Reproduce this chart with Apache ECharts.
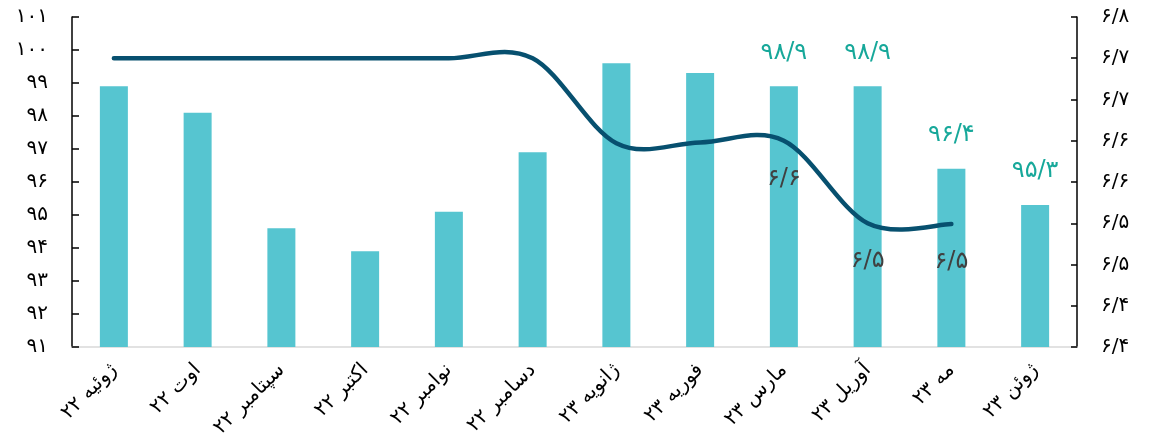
<!DOCTYPE html>
<html>
<head>
<meta charset="utf-8">
<script src="https://cdn.jsdelivr.net/npm/echarts@6/dist/echarts.min.js"></script>
<style>
html,body{margin:0;padding:0;background:#fff;}
#chart{width:1157px;height:445px;}
</style>
</head>
<body>
<div id="chart"></div>
<script>
const categories = ['ژوئیه ۲۲','اوت ۲۲','سپتامبر ۲۲','اکتبر ۲۲','نوامبر ۲۲','دسامبر ۲۲','ژانویه ۲۳','فوریه ۲۳','مارس ۲۳','آوریل ۲۳','مه ۲۳','ژوئن ۲۳'];
const barValues = [98.9, 98.1, 94.6, 93.9, 95.1, 96.9, 99.6, 99.3, 98.9, 98.9, 96.4, 95.3];
const lineValues = [6.75, 6.75, 6.75, 6.75, 6.75, 6.75, 6.647, 6.648, 6.65, 6.55, 6.549, null];
const barLabelIdx = [8, 9, 10, 11];
const lineLabelIdx = [8, 9, 10];

const fa = s => String(s).replace(/[0-9]/g, d => '۰۱۲۳۴۵۶۷۸۹'[d]).replace('.', '/');
const trunc1 = v => (Math.floor(v * 10 + 1e-6) / 10).toFixed(1);
const FONT = 'DejaVu Sans';
const LINE_COLOR = '#07506f';

function renderSmoothLine(params, api) {
  if (params.dataIndex !== 0) return null;
  const pts = [];
  lineValues.forEach((v, i) => { if (v != null) pts.push({i, v, p: api.coord([i, v])}); });
  const P = pts.map(o => o.p);
  let d = 'M' + P[0][0] + ' ' + P[0][1];
  for (let k = 0; k < P.length - 1; k++) {
    const p0 = P[k - 1] || P[k], p1 = P[k], p2 = P[k + 1], p3 = P[k + 2] || P[k + 1];
    const c1 = [p1[0] + (p2[0] - p0[0]) / 6, p1[1] + (p2[1] - p0[1]) / 6];
    const c2 = [p2[0] - (p3[0] - p1[0]) / 6, p2[1] - (p3[1] - p1[1]) / 6];
    d += ' C' + c1[0] + ' ' + c1[1] + ' ' + c2[0] + ' ' + c2[1] + ' ' + p2[0] + ' ' + p2[1];
  }
  const children = [{
    type: 'path',
    shape: {pathData: d},
    style: {fill: null, stroke: LINE_COLOR, lineWidth: 4.5, lineCap: 'round', lineJoin: 'round'}
  }];
  pts.forEach(o => {
    if (lineLabelIdx.includes(o.i)) {
      children.push({
        type: 'text',
        style: {
          text: fa(trunc1(o.v)), x: o.p[0], y: o.p[1] + 38,
          align: 'center', verticalAlign: 'middle',
          fill: '#404040', fontSize: 24, fontFamily: FONT
        }
      });
    }
  });
  return {type: 'group', children};
}

const chart = echarts.init(document.getElementById('chart'), null, {renderer: 'canvas'});
chart.setOption({
  animation: false,
  backgroundColor: '#ffffff',
  grid: {left: 72, right: 80, top: 17, bottom: 98},
  xAxis: {
    type: 'category',
    data: categories,
    axisLine: {show: true, lineStyle: {color: '#d9d9d9', width: 1.5}},
    axisTick: {show: false},
    axisLabel: {rotate: 45, margin: 20, fontSize: 20, color: '#000', fontFamily: FONT, interval: 0}
  },
  yAxis: [
    {
      type: 'value', min: 91, max: 101, interval: 1,
      splitLine: {show: false},
      axisLine: {show: true, lineStyle: {color: '#000', width: 1.5}},
      axisTick: {show: true, inside: true, length: 7, lineStyle: {color: '#000', width: 1.5}},
      axisLabel: {fontSize: 20, color: '#000', fontFamily: FONT, margin: 24, formatter: v => fa(v)}
    },
    {
      type: 'value', min: 6.4, max: 6.8, interval: 0.05,
      splitLine: {show: false},
      axisLine: {show: true, lineStyle: {color: '#000', width: 1.5}},
      axisTick: {show: true, inside: true, length: 6, lineStyle: {color: '#000', width: 1.5}},
      axisLabel: {fontSize: 20, color: '#000', fontFamily: FONT, margin: 24, formatter: v => fa(trunc1(v))}
    }
  ],
  series: [
    {
      type: 'bar',
      yAxisIndex: 0,
      data: barValues,
      barWidth: 28,
      itemStyle: {color: '#56c5d0'},
      label: {
        show: true, position: 'top', distance: 22, fontSize: 24, color: '#17a89a', fontFamily: FONT,
        formatter: p => barLabelIdx.includes(p.dataIndex) ? fa(p.value.toFixed(1)) : ''
      }
    },
    {
      type: 'custom',
      yAxisIndex: 1,
      data: lineValues.map((v, i) => [i, v == null ? 6.4 : v]),
      encode: {x: 0, y: 1},
      renderItem: renderSmoothLine,
      z: 3
    }
  ]
});
</script>
</body>
</html>
